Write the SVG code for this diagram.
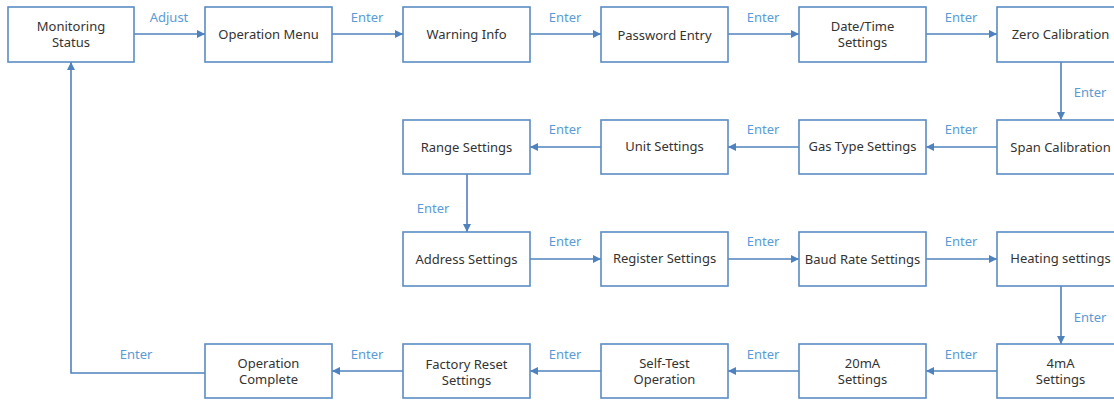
<svg xmlns="http://www.w3.org/2000/svg" width="1114" height="401" viewBox="0 0 1114 401">
<style>
.box{fill:#fff;stroke:#5b8cc4;stroke-width:1.6}
.t{font-family:"Noto Sans",sans-serif;font-size:13px;fill:#333;text-anchor:middle;dominant-baseline:central}
.lbl{font-family:"Noto Sans",sans-serif;font-size:13px;fill:#5b9bd5;text-anchor:middle;dominant-baseline:central}
.ln{fill:none;stroke:#4f82bd;stroke-width:1.6}
</style>
<defs>
<marker id="ah" viewBox="0 0 10 10" refX="10" refY="5" markerWidth="8" markerHeight="8" markerUnits="userSpaceOnUse" orient="auto"><path d="M0,0L10,5L0,10z" fill="#4f82bd"/></marker>
</defs>
<g id="connectors">
<path class="ln" d="M134,34H205" marker-end="url(#ah)"/>
<path class="ln" d="M332,34H403" marker-end="url(#ah)"/>
<path class="ln" d="M530,34H601" marker-end="url(#ah)"/>
<path class="ln" d="M728,34H799" marker-end="url(#ah)"/>
<path class="ln" d="M926,34H997" marker-end="url(#ah)"/>
<path class="ln" d="M1061,62V120" marker-end="url(#ah)"/>
<path class="ln" d="M997,147H926" marker-end="url(#ah)"/>
<path class="ln" d="M799,147H728" marker-end="url(#ah)"/>
<path class="ln" d="M601,147H530" marker-end="url(#ah)"/>
<path class="ln" d="M467,174V232" marker-end="url(#ah)"/>
<path class="ln" d="M530,259H601" marker-end="url(#ah)"/>
<path class="ln" d="M728,259H799" marker-end="url(#ah)"/>
<path class="ln" d="M926,259H997" marker-end="url(#ah)"/>
<path class="ln" d="M1061,286V344" marker-end="url(#ah)"/>
<path class="ln" d="M997,371H926" marker-end="url(#ah)"/>
<path class="ln" d="M799,371H728" marker-end="url(#ah)"/>
<path class="ln" d="M601,371H530" marker-end="url(#ah)"/>
<path class="ln" d="M403,371H332" marker-end="url(#ah)"/>
<path class="ln" d="M205,373H71V62" marker-end="url(#ah)"/>
<text class="lbl" x="169" y="17">Adjust</text>
<text class="lbl" x="367" y="17">Enter</text>
<text class="lbl" x="565" y="17">Enter</text>
<text class="lbl" x="763" y="17">Enter</text>
<text class="lbl" x="961" y="17">Enter</text>
<text class="lbl" x="1090" y="92">Enter</text>
<text class="lbl" x="961" y="129">Enter</text>
<text class="lbl" x="763" y="129">Enter</text>
<text class="lbl" x="565" y="129">Enter</text>
<text class="lbl" x="433" y="208">Enter</text>
<text class="lbl" x="565" y="241">Enter</text>
<text class="lbl" x="763" y="241">Enter</text>
<text class="lbl" x="961" y="241">Enter</text>
<text class="lbl" x="1090" y="317">Enter</text>
<text class="lbl" x="961" y="354">Enter</text>
<text class="lbl" x="763" y="354">Enter</text>
<text class="lbl" x="565" y="354">Enter</text>
<text class="lbl" x="367" y="354">Enter</text>
<text class="lbl" x="136" y="354">Enter</text>
</g>
<g id="n1"><rect class="box" x="8" y="7" width="126" height="55"/><text class="t" x="71" y="26">Monitoring</text><text class="t" x="71" y="42">Status</text></g>
<g id="n2"><rect class="box" x="205" y="7" width="127" height="55"/><text class="t" x="268.5" y="34">Operation Menu</text></g>
<g id="n3"><rect class="box" x="403" y="7" width="127" height="55"/><text class="t" x="466.5" y="34">Warning Info</text></g>
<g id="n4"><rect class="box" x="601" y="7" width="127" height="55"/><text class="t" x="664.5" y="35">Password Entry</text></g>
<g id="n5"><rect class="box" x="799" y="7" width="127" height="55"/><text class="t" x="862.5" y="26">Date/Time</text><text class="t" x="862.5" y="42">Settings</text></g>
<g id="n6"><rect class="box" x="997" y="7" width="127" height="55"/><text class="t" x="1060.5" y="34">Zero Calibration</text></g>
<g id="n7"><rect class="box" x="997" y="120" width="127" height="54"/><text class="t" x="1060.5" y="147">Span Calibration</text></g>
<g id="n8"><rect class="box" x="799" y="120" width="127" height="54"/><text class="t" x="862.5" y="146">Gas Type Settings</text></g>
<g id="n9"><rect class="box" x="601" y="120" width="127" height="54"/><text class="t" x="664.5" y="146">Unit Settings</text></g>
<g id="n10"><rect class="box" x="403" y="120" width="127" height="54"/><text class="t" x="466.5" y="147">Range Settings</text></g>
<g id="n11"><rect class="box" x="403" y="232" width="127" height="54"/><text class="t" x="466.5" y="259">Address Settings</text></g>
<g id="n12"><rect class="box" x="601" y="232" width="127" height="54"/><text class="t" x="664.5" y="258">Register Settings</text></g>
<g id="n13"><rect class="box" x="799" y="232" width="127" height="54"/><text class="t" x="862.5" y="259">Baud Rate Settings</text></g>
<g id="n14"><rect class="box" x="997" y="232" width="127" height="54"/><text class="t" x="1060.5" y="258">Heating settings</text></g>
<g id="n15"><rect class="box" x="997" y="344" width="127" height="54"/><text class="t" x="1060.5" y="363">4mA</text><text class="t" x="1060.5" y="379">Settings</text></g>
<g id="n16"><rect class="box" x="799" y="344" width="127" height="54"/><text class="t" x="862.5" y="363">20mA</text><text class="t" x="862.5" y="379">Settings</text></g>
<g id="n17"><rect class="box" x="601" y="344" width="127" height="54"/><text class="t" x="664.5" y="363">Self-Test</text><text class="t" x="664.5" y="379">Operation</text></g>
<g id="n18"><rect class="box" x="403" y="344" width="127" height="54"/><text class="t" x="466.5" y="364">Factory Reset</text><text class="t" x="466.5" y="380">Settings</text></g>
<g id="n19"><rect class="box" x="205" y="344" width="127" height="54"/><text class="t" x="268.5" y="363">Operation</text><text class="t" x="268.5" y="379">Complete</text></g>
</svg>
